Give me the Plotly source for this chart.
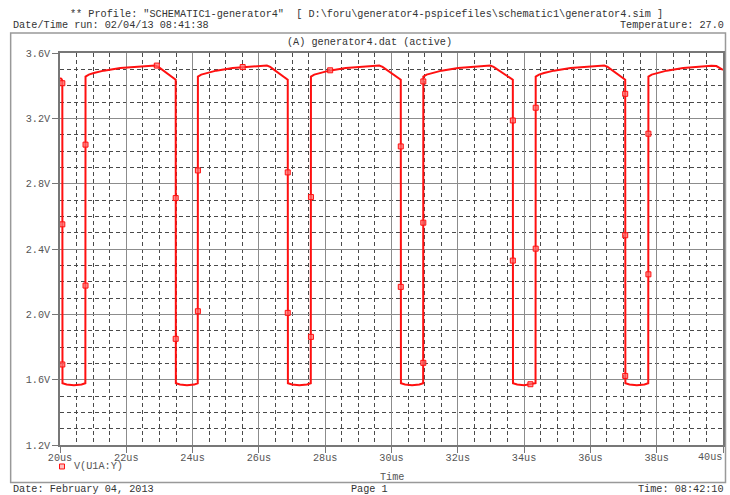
import plotly.graph_objects as go

# ---------------- data ----------------
time_us = [
    20.00, 20.04, 20.07, 20.075, 20.20, 20.42, 20.65, 20.765,
    20.77, 20.87, 21.02, 21.32, 21.82, 22.27, 22.77, 22.87, 22.97, 23.49,
    23.495, 23.62, 23.83, 24.05, 24.155,
    24.16, 24.26, 24.41, 24.71, 25.21, 25.66, 26.16, 26.24, 26.34, 26.87,
    26.875, 27.00, 27.22, 27.45, 27.565,
    27.57, 27.67, 27.82, 28.12, 28.62, 29.07, 29.57, 29.63, 29.73, 30.28,
    30.285, 30.41, 30.62, 30.84, 30.955,
    30.96, 31.06, 31.21, 31.51, 32.01, 32.46, 32.96, 32.98, 33.08, 33.66,
    33.665, 33.79, 34.00, 34.19, 34.345,
    34.35, 34.45, 34.60, 34.90, 35.40, 35.85, 36.35, 36.42, 36.52, 37.05,
    37.055, 37.18, 37.40, 37.63, 37.745,
    37.75, 37.85, 38.00, 38.30, 38.80, 39.25, 39.65, 39.80, 39.92, 40.00,
]
v_u1a_y = [
    3.446, 3.442, 3.432, 1.578, 1.570, 1.566, 1.570, 1.578,
    3.456, 3.468, 3.477, 3.492, 3.508, 3.516, 3.521, 3.523, 3.515, 3.436,
    1.578, 1.570, 1.566, 1.570, 1.578,
    3.456, 3.468, 3.477, 3.492, 3.508, 3.516, 3.521, 3.523, 3.515, 3.436,
    1.578, 1.570, 1.566, 1.570, 1.578,
    3.456, 3.468, 3.477, 3.492, 3.508, 3.516, 3.521, 3.523, 3.515, 3.436,
    1.578, 1.570, 1.566, 1.570, 1.578,
    3.456, 3.468, 3.477, 3.492, 3.508, 3.516, 3.521, 3.523, 3.515, 3.436,
    1.578, 1.570, 1.566, 1.572, 1.578,
    3.456, 3.468, 3.477, 3.492, 3.508, 3.516, 3.521, 3.523, 3.515, 3.436,
    1.578, 1.570, 1.566, 1.570, 1.578,
    3.456, 3.468, 3.477, 3.492, 3.508, 3.516, 3.522, 3.520, 3.508, 3.497,
]

marker_t = [20.07, 20.07, 20.07, 20.77, 20.77, 22.92, 23.49, 23.49, 24.16, 24.16,
            25.51, 26.87, 26.87, 27.57, 27.57, 28.15, 30.28, 30.28, 30.96, 30.96,
            30.96, 33.66, 33.66, 34.35, 34.35, 34.19, 37.05, 37.05, 37.05, 37.75,
            37.75]
marker_v = [3.415, 2.551, 1.693, 3.039, 2.176, 3.523, 2.712, 1.850, 2.881, 2.019,
            3.514, 2.869, 2.009, 2.718, 1.862, 3.494, 3.028, 2.168, 3.426, 2.561,
            1.703, 3.187, 2.329, 3.265, 2.402, 1.572, 3.350, 2.484, 1.623, 3.106,
            2.245]

x_tick_vals = [20, 22, 24, 26, 28, 30, 32, 34, 36, 38, 40]
x_tick_labels = ["20us", "22us", "24us", "26us", "28us", "30us", "32us",
                 "34us", "36us", "38us", "40us"]
y_tick_vals = [1.2, 1.6, 2.0, 2.4, 2.8, 3.2, 3.6]
y_tick_labels = ["1.2V", "1.6V", "2.0V", "2.4V", "2.8V", "3.2V", "3.6V"]

series_name = "V(U1A:Y)"
header_line1 = '** Profile: "SCHEMATIC1-generator4"  [ D:\\foru\\generator4-pspicefiles\\schematic1\\generator4.sim ]'
header_line2 = "Date/Time run: 02/04/13 08:41:38"
temperature_text = "Temperature: 27.0"
plot_title = "(A) generator4.dat (active)"
x_axis_title = "Time"
footer_left = "Date: February 04, 2013"
footer_mid = "Page 1"
footer_right = "Time: 08:42:10"

# ---------------- layout helpers ----------------
W, H = 730, 495
L, R, T, B = 60, 725, 52.5, 445


def px(x):
    return (x - L) / (R - L)


def py(y):
    return (B - y) / (B - T)


FONT = "Liberation Mono, Courier New, monospace"
TXT = "#333333"
LBL = "#555555"
RED = "#ff1010"

fig = go.Figure()
fig.add_trace(go.Scatter(x=time_us, y=v_u1a_y, mode="lines",
                         line=dict(color=RED, width=2), showlegend=False,
                         hoverinfo="skip"))
fig.add_trace(go.Scatter(x=marker_t, y=marker_v, mode="markers",
                         marker=dict(symbol="square", size=5,
                                     color="rgba(255,110,110,0.7)",
                                     line=dict(color=RED, width=1)),
                         showlegend=False, hoverinfo="skip"))

axis_common = dict(
    showline=True, mirror=True, linecolor="#777777", linewidth=1.5,
    showgrid=True, gridcolor="#8c8c8c", gridwidth=1.3,
    ticks="outside", ticklen=6, tickcolor="#777777", tickwidth=1.3,
    zeroline=False,
    tickfont=dict(family=FONT, size=10.2, color=LBL),
)

fig.update_xaxes(range=[20, 40], tickvals=x_tick_vals,
                 ticktext=x_tick_labels[:-1] + [""],
                 ticklabelstandoff=-4,
                 minor=dict(dtick=0.5, tick0=20, showgrid=True, gridcolor="#4a4a4a",
                            griddash="4px,3px", gridwidth=1),
                 **axis_common)
fig.update_yaxes(range=[1.2, 3.6], tickvals=y_tick_vals, ticktext=y_tick_labels,
                 minor=dict(dtick=0.1, tick0=1.2, showgrid=True, gridcolor="#4a4a4a",
                            griddash="4px,3px", gridwidth=1),
                 **axis_common)

annotations = []


def add_text(text, x, y, xanchor, color=TXT):
    annotations.append(dict(text=text, x=px(x), y=py(y), xref="paper", yref="paper",
                            xanchor=xanchor, yanchor="middle", showarrow=False,
                            font=dict(family=FONT, size=10.2, color=color)))


add_text(header_line1, 68, 13.5, "left")
add_text(header_line2, 11, 24.5, "left")
add_text(temperature_text, 728, 24.5, "right")
add_text(plot_title, 370, 42, "center")
add_text(x_tick_labels[-1], 726, 457.5, "right", LBL)
add_text(series_name, 72, 466.5, "left", LBL)
add_text(x_axis_title, 392.5, 478, "center", LBL)
add_text(footer_left, 11, 490, "left")
add_text(footer_mid, 370, 490, "center")
add_text(footer_right, 728, 490, "right")

shapes = [
    dict(type="rect", xref="paper", yref="paper",
         x0=px(10.5), x1=px(727.5), y0=py(482.5), y1=py(32.5),
         line=dict(color="#999999", width=1.5), layer="below"),
    dict(type="rect", xref="paper", yref="paper",
         x0=px(59.5), x1=px(64.5), y0=py(469), y1=py(464),
         line=dict(color=RED, width=1), fillcolor="rgba(255,150,150,0.6)"),
]

fig.update_layout(
    width=W, height=H,
    margin=dict(l=L, r=W - R, t=T, b=H - B, pad=0),
    paper_bgcolor="white", plot_bgcolor="white",
    annotations=annotations, shapes=shapes,
    showlegend=False,
)

fig.write_html("out.html", config={"displayModeBar": False},
               post_script="document.body.style.margin='0';document.body.style.padding='0';")
